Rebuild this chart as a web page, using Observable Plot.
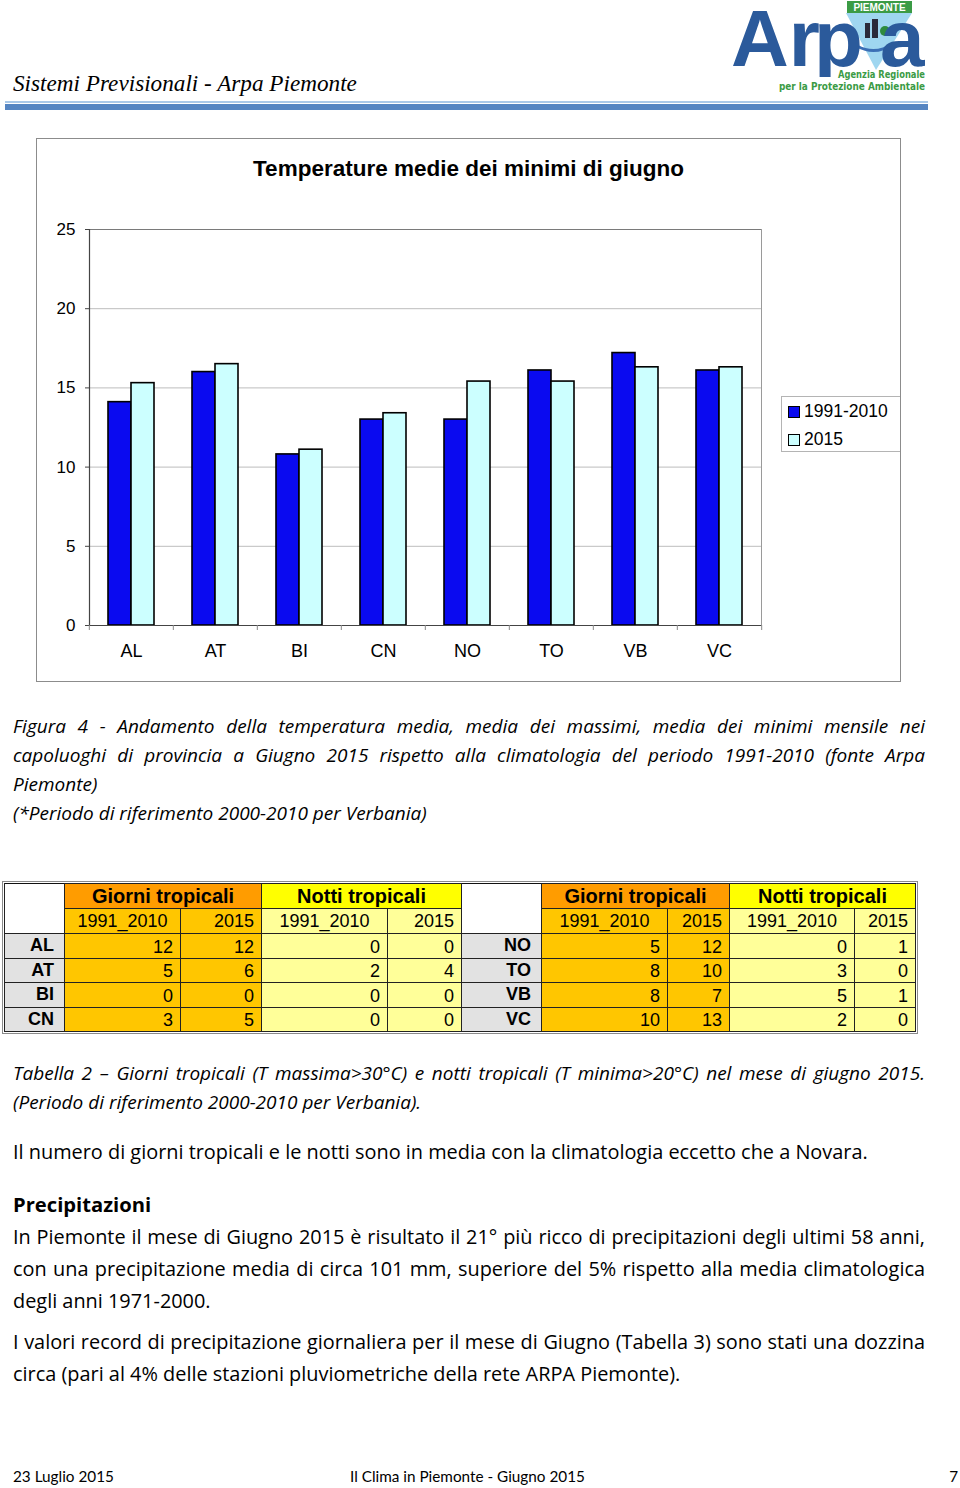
<!DOCTYPE html>
<html><head><meta charset="utf-8">
<script src="https://cdn.jsdelivr.net/npm/d3@7"></script>
<script src="https://cdn.jsdelivr.net/npm/@observablehq/plot@0.6"></script>
<style>
html,body{margin:0;padding:0;background:#fff;}
body{width:960px;height:1488px;position:relative;overflow:hidden;font-family:"Open Sans",Lato,sans-serif;color:#000;}
.abs{position:absolute;}
.line{position:absolute;left:13px;width:912px;white-space:nowrap;line-height:28px;height:28px;}
.line span{white-space:nowrap;}
.cap{font-style:italic;font-size:19px;}
.body{font-size:19.9px;}
#chartbox{position:absolute;left:36px;top:138px;width:865px;height:544px;border:1px solid #8c8c8c;box-sizing:border-box;}
#title{position:absolute;left:36px;top:154px;width:865px;text-align:center;font-family:"Liberation Sans",Arial,sans-serif;font-weight:bold;font-size:22.5px;line-height:30px;}
#plot{position:absolute;left:36px;top:210px;}
#legend{position:absolute;left:781px;top:396px;width:119px;height:56px;border:1px solid #b4b4b4;border-right:none;box-sizing:border-box;font-family:"Liberation Sans",Arial,sans-serif;font-size:17.5px;}
#legend .item{position:absolute;left:6px;height:22px;line-height:22px;white-space:nowrap;}
#legend .sw{display:inline-block;width:10px;height:10px;border:1px solid #000;margin-right:4px;vertical-align:-1px;}
#tablewrap{position:absolute;left:2px;top:881px;border:1px solid #8a8a8a;padding:1px;}
table{border-collapse:collapse;border:1.5px solid #111;font-family:"Liberation Sans",Arial,sans-serif;table-layout:fixed;}
td{border:1px solid #222;padding:0 7px 0 0;font-size:18px;text-align:right;height:24.5px;line-height:24px;box-sizing:border-box;overflow:hidden;white-space:nowrap;}
td.h1{font-weight:bold;font-size:20px;text-align:center;padding:0;}
td.h2{text-align:center;padding:0;font-size:18px;}
td.blank{background:#fff;border-top:none;border-bottom:none;}
td.lab{background:#e2e2e2;font-weight:bold;padding-right:10px;vertical-align:top;line-height:22px;}
td.num{vertical-align:bottom;line-height:22px;}
.gH{background:#ff9c00;} .gD{background:#ffc600;}
.nH{background:#ffff00;} .nD{background:#ffff99;}
.foot{position:absolute;top:1466px;font-family:Lato,sans-serif;font-size:15.3px;line-height:20px;white-space:nowrap;}
</style></head><body>

<!-- header -->
<div class="abs" style="left:13px;top:68px;font-family:'Liberation Serif',serif;font-style:italic;font-size:23.2px;line-height:30px;white-space:nowrap;">Sistemi Previsionali - Arpa Piemonte</div>
<div class="abs" style="left:5px;top:101px;width:923px;height:2px;background:#a9c8e8;"></div>
<div class="abs" style="left:5px;top:104px;width:923px;height:6px;background:#5585c2;"></div>
<svg class="abs" style="left:725px;top:0px;" width="210" height="96" viewBox="0 0 210 96">
  <polygon points="121,13 187,13 151,70" fill="#9fd6f0"/>
  <rect x="140" y="23" width="5" height="15" fill="#2a2a3a"/>
  <rect x="147" y="19" width="6" height="19" fill="#2a2a3a"/>
  <circle cx="160" cy="31" r="5" fill="#2e8b3e"/>
  <path d="M132 46 Q150 56 168 44" stroke="#3b6fb5" stroke-width="3" fill="none"/>
  <rect x="122" y="1" width="65" height="12" fill="#3b9b45"/>
  <text x="154.5" y="11" text-anchor="middle" font-family="'Liberation Sans',sans-serif" font-weight="bold" font-size="10" fill="#fff">PIEMONTE</text>
  <g font-family="'Liberation Sans',Arial,sans-serif" font-weight="bold" font-size="80" fill="#2b5a9b">
    <text x="6" y="66">Ar</text>
    <text x="89" y="66">p</text>
    <text x="155" y="66">a</text>
  </g>
  <rect x="80" y="77" width="60" height="19" fill="#fff"/>
  <text x="113" y="78" textLength="87" lengthAdjust="spacingAndGlyphs" font-family="'Liberation Sans Narrow','DejaVu Sans Condensed',sans-serif" font-weight="bold" font-size="11" fill="#3b9b45">Agenzia Regionale</text>
  <text x="54" y="90" textLength="146" lengthAdjust="spacingAndGlyphs" font-family="'Liberation Sans Narrow','DejaVu Sans Condensed',sans-serif" font-weight="bold" font-size="11" fill="#3b9b45">per la Protezione Ambientale</text>
</svg>

<!-- chart -->
<div id="chartbox"></div>
<div id="title">Temperature medie dei minimi di giugno</div>
<div id="plot"></div>
<div id="legend"></div>

<!-- caption -->
<div class="line cap just" style="top:712px;"><span>Figura 4 - Andamento della temperatura media, media dei massimi, media dei minimi mensile nei</span></div>
<div class="line cap just" style="top:741px;"><span>capoluoghi di provincia a Giugno 2015 rispetto alla climatologia del periodo 1991-2010 (fonte Arpa</span></div>
<div class="line cap" style="top:770px;"><span>Piemonte)</span></div>
<div class="line cap" style="top:799px;"><span>(*Periodo di riferimento 2000-2010 per Verbania)</span></div>

<!-- table -->
<div id="tablewrap"></div>

<div class="line cap just" style="top:1059px;"><span>Tabella 2 – Giorni tropicali (T massima&gt;30°C) e notti tropicali (T minima&gt;20°C) nel mese di giugno 2015.</span></div>
<div class="line cap" style="top:1088px;"><span>(Periodo di riferimento 2000-2010 per Verbania).</span></div>

<div class="line body" style="top:1138px;"><span>Il numero di giorni tropicali e le notti sono in media con la climatologia eccetto che a Novara.</span></div>
<div class="line body" style="top:1190px;font-weight:bold;font-size:20.2px;"><span>Precipitazioni</span></div>
<div class="line body just" style="top:1223px;"><span>In Piemonte il mese di Giugno 2015 è risultato il 21° più ricco di precipitazioni degli ultimi 58 anni,</span></div>
<div class="line body just" style="top:1255px;"><span>con una precipitazione media di circa 101 mm, superiore del 5% rispetto alla media climatologica</span></div>
<div class="line body" style="top:1287px;"><span>degli anni 1971-2000.</span></div>
<div class="line body just" style="top:1328px;"><span>I valori record di precipitazione giornaliera per il mese di Giugno (Tabella 3) sono stati una dozzina</span></div>
<div class="line body" style="top:1360px;"><span>circa (pari al 4% delle stazioni pluviometriche della rete ARPA Piemonte).</span></div>

<!-- footer -->
<div class="foot" style="left:13px;">23 Luglio 2015</div>
<div class="foot" style="left:350px;">Il Clima in Piemonte - Giugno 2015</div>
<div class="foot" style="left:900px;width:58px;text-align:right;">7</div>

<script>
// ---- chart data ----
const categories = ["AL", "AT", "BI", "CN", "NO", "TO", "VB", "VC"];
const series = ["1991-2010", "2015"];
const values19912010 = [14.1, 16.0, 10.8, 13.0, 13.0, 16.1, 17.2, 16.1];
const values2015 = [15.3, 16.5, 11.1, 13.4, 15.4, 15.4, 16.3, 16.3];
const yTicks = [0, 5, 10, 15, 20, 25];
const seriesColors = ["#0a0af0", "#ccffff"];

// ---- table data (same station order as categories) ----
const tableGroups = ["Giorni tropicali", "Notti tropicali"];
const tableSubHeaders = ["1991_2010", "2015"];
const giorni19912010 = [12, 5, 0, 3, 5, 8, 8, 10];
const giorni2015 = [12, 6, 0, 5, 12, 10, 7, 13];
const notti19912010 = [0, 2, 0, 0, 0, 3, 5, 2];
const notti2015 = [0, 4, 0, 0, 1, 0, 1, 0];

const data = categories.flatMap((c, i) => [
  {cat: c, serie: series[0], v: values19912010[i]},
  {cat: c, serie: series[1], v: values2015[i]}
]);

const W = 740, H = 465, ML = 51, MR = 14, MT = 19, MB = 50;
const step = (W - ML - MR) / categories.length;

const chart = Plot.plot({
  width: W, height: H,
  marginLeft: ML, marginRight: MR, marginTop: MT, marginBottom: MB,
  style: {fontFamily: "'Liberation Sans', Arial, sans-serif", fontSize: "17px", color: "#000", background: "transparent", overflow: "visible"},
  fx: {domain: categories, padding: 0, label: null},
  x: {domain: series, paddingInner: 0, paddingOuter: 0.76, axis: null},
  y: {domain: [0, 25], label: null},
  color: {domain: series, range: seriesColors},
  marks: [
    Plot.ruleY([5, 10, 15, 20], {stroke: "#bdbdbd", strokeWidth: 1}),
    Plot.ruleY([25], {stroke: "#7a7a7a", strokeWidth: 1.2}),
    Plot.frame({anchor: "right", facetAnchor: "right", stroke: "#9a9a9a"}),
    Plot.barY(data, {fx: "cat", x: "serie", y: "v", fill: "serie", stroke: "#000", strokeWidth: 1.6}),
    Plot.ruleY([0], {stroke: "#444", strokeWidth: 1.2}),
    Plot.frame({anchor: "left", facetAnchor: "left", stroke: "#444", strokeWidth: 1.2}),
    Plot.axisY({ticks: yTicks, tickSize: 4, tickPadding: 10, label: null, stroke: "#444", fontSize: 17}),
    Plot.axisFx({anchor: "bottom", tickSize: 0, tickPadding: 19, label: null, fontSize: 18}),
    Plot.axisFx({anchor: "bottom", tickSize: 5, dx: -step / 2, tickFormat: () => "", label: null, stroke: "#888"}),
    Plot.axisFx({anchor: "bottom", ticks: [categories[categories.length - 1]], tickSize: 5, dx: step / 2, tickFormat: () => "", label: null, stroke: "#888"})
  ]
});
document.getElementById("plot").appendChild(chart);

// legend
const legend = document.getElementById("legend");
series.forEach((s, i) => {
  const it = document.createElement("div");
  it.className = "item";
  it.style.top = (3 + i * 28) + "px";
  it.innerHTML = `<span class="sw" style="background:${seriesColors[i]}"></span>${s}`;
  legend.appendChild(it);
});

// table
const colW = [60, 116, 81, 126, 74, 80, 126, 62, 125, 61];
const tbl = document.createElement("table");
tbl.style.width = colW.reduce((a, b) => a + b, 0) + "px";
let html = "<colgroup>" + colW.map(w => `<col style="width:${w}px">`).join("") + "</colgroup><tr>";
for (let side = 0; side < 2; side++) {
  html += `<td class="blank" rowspan="2"></td>`;
  html += `<td class="h1 gH" colspan="2">${tableGroups[0]}</td><td class="h1 nH" colspan="2">${tableGroups[1]}</td>`;
}
html += "</tr><tr>";
for (let side = 0; side < 2; side++) {
  html += `<td class="h2 gD">${tableSubHeaders[0]}</td><td class="h2 gD" style="text-align:right;padding-right:7px;">${tableSubHeaders[1]}</td>`;
  html += `<td class="h2 nD">${tableSubHeaders[0]}</td><td class="h2 nD" style="text-align:right;padding-right:7px;">${tableSubHeaders[1]}</td>`;
}
html += "</tr>";
for (let r = 0; r < 4; r++) {
  html += "<tr>";
  for (let side = 0; side < 2; side++) {
    const i = r + side * 4;
    html += `<td class="lab">${categories[i]}</td>`;
    html += `<td class="num gD">${giorni19912010[i]}</td><td class="num gD">${giorni2015[i]}</td>`;
    html += `<td class="num nD">${notti19912010[i]}</td><td class="num nD">${notti2015[i]}</td>`;
  }
  html += "</tr>";
}
tbl.innerHTML = html;
document.getElementById("tablewrap").appendChild(tbl);

// justify single lines to full width
function justify() {
  document.querySelectorAll(".line.just span").forEach(sp => {
    sp.style.wordSpacing = "0px";
    sp.style.letterSpacing = "0px";
    const w = sp.getBoundingClientRect().width;
    const n = (sp.textContent.match(/ /g) || []).length;
    let extra = 912 - w;
    if (extra < 0) {
      const chars = sp.textContent.length;
      sp.style.letterSpacing = (extra / chars) + "px";
    } else if (n > 0) {
      sp.style.wordSpacing = (extra / n) + "px";
    }
  });
}
justify();
if (document.fonts && document.fonts.ready) document.fonts.ready.then(justify);
</script>
</body></html>
